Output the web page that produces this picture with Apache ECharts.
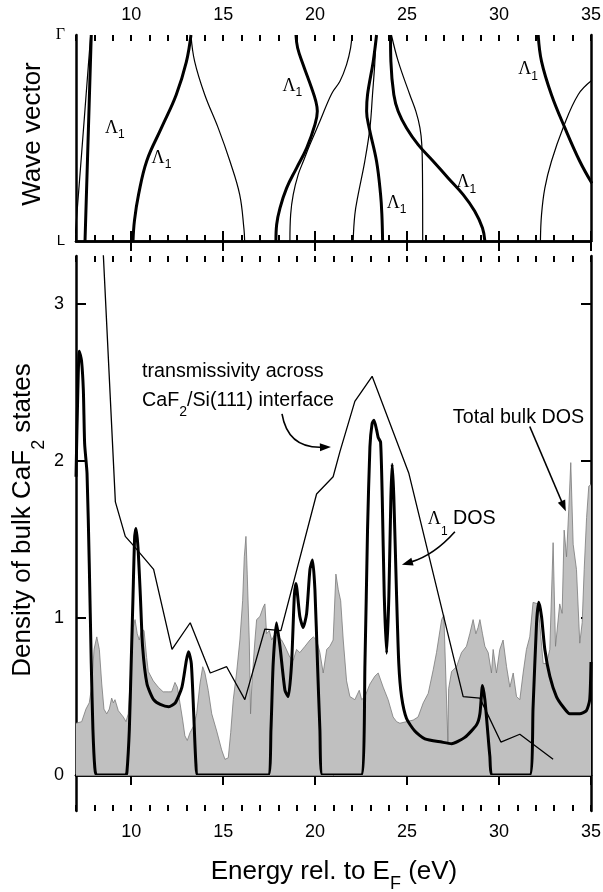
<!DOCTYPE html>
<html><head><meta charset="utf-8">
<script src="https://cdn.jsdelivr.net/npm/echarts@6/dist/echarts.min.js"></script>
<style>html,body{margin:0;padding:0;background:#fff}#c{width:603px;height:892px}</style>
</head><body><div id="c"></div>
<script>
// ---------- tick values ----------
const majorTicks = [10, 15, 20, 25, 30, 35];
const dosTicks = [0, 1, 2, 3];
const kTicks = [0, 1];
const kTickLabels = ['L', 'Γ'];

// ---------- top panel: band structure (energy eV, wave vector 0=L .. 1=Γ) ----------
const bandThick1 = [[7.49,0],[7.66,0.5],[7.83,1]];
const bandThick2 = [[10.1,0],[10.18,0.1],[10.4,0.225],[10.85,0.39],[11.65,0.55],[12.45,0.71],[13.0,0.87],[13.25,1]];
const bandThick3 = [[17.87,0],[17.91,0.08],[18.09,0.16],[18.45,0.257],[18.99,0.354],[19.54,0.451],[19.99,0.565],[20.12,0.63],[20.04,0.678],[19.81,0.743],[19.35,0.856],[19.05,0.937],[18.96,1]];
const bandThick4 = [[23.67,0],[23.63,0.128],[23.56,0.225],[23.34,0.387],[22.94,0.549],[22.8,0.63],[22.85,0.71],[23.16,0.872],[23.34,1]];
const bandThick5 = [[29.23,0],[29.1,0.063],[28.68,0.144],[28.05,0.225],[27.23,0.306],[26.42,0.387],[25.6,0.468],[24.97,0.549],[24.52,0.629],[24.28,0.71],[24.12,0.872],[24.1,1]];
const bandThick6 = [[35.05,0.28],[34.39,0.387],[33.58,0.549],[32.85,0.71],[32.31,0.872],[32.13,1]];

const bandThin1 = [[6.95,0.02],[7.31,0.43],[7.67,0.85],[7.8,1]];
const bandThin2 = [[16.17,0],[16.13,0.06],[15.9,0.225],[15.37,0.387],[14.73,0.549],[14.0,0.71],[13.45,0.872],[13.25,1]];
const bandThin3 = [[18.63,0],[18.67,0.128],[18.81,0.225],[19.08,0.322],[19.36,0.387],[19.72,0.468],[20.26,0.581],[20.9,0.715],[21.35,0.775],[21.71,0.856],[21.93,0.937],[22.0,1]];
const bandThin4 = [[22.07,0],[22.16,0.128],[22.34,0.225],[22.7,0.387],[22.98,0.549],[23.12,0.71],[23.25,0.872],[23.3,1]];
const bandThin5 = [[25.85,0],[25.84,0.3],[25.8,0.468],[25.7,0.549],[25.48,0.629],[25.15,0.71],[24.52,0.872],[24.15,1]];
const bandThin6 = [[32.25,0],[32.31,0.128],[32.49,0.257],[32.85,0.387],[33.48,0.549],[34.3,0.71],[35.05,0.78]];

// ---------- bottom panel ----------
const totalDos = [[7.0,0.33],[7.31,0.34],[7.54,0.42],[7.72,0.46],[7.85,0.56],[7.98,0.80],[8.13,0.88],[8.27,0.80],[8.40,0.58],[8.52,0.42],[8.67,0.39],[8.81,0.42],[8.94,0.49],[9.03,0.46],[9.12,0.48],[9.30,0.41],[9.57,0.37],[9.72,0.34],[9.84,0.39],[9.97,0.65],[10.11,0.94],[10.21,0.99],[10.33,0.90],[10.44,0.86],[10.57,0.93],[10.70,0.92],[10.84,0.75],[10.93,0.66],[11.20,0.60],[11.47,0.56],[11.74,0.53],[12.02,0.53],[12.20,0.53],[12.29,0.56],[12.38,0.59],[12.51,0.56],[12.65,0.46],[12.80,0.35],[12.92,0.25],[13.05,0.22],[13.20,0.27],[13.38,0.31],[13.56,0.39],[13.74,0.58],[13.89,0.69],[14.01,0.65],[14.19,0.54],[14.38,0.39],[14.65,0.28],[14.92,0.16],[15.10,0.10],[15.28,0.11],[15.41,0.27],[15.55,0.48],[15.73,0.65],[15.91,0.86],[16.06,1.11],[16.15,1.39],[16.24,1.52],[16.31,1.28],[16.42,0.86],[16.49,0.39],[16.57,0.60],[16.73,0.86],[16.82,0.99],[17.0,1.01],[17.18,1.07],[17.27,1.09],[17.36,0.90],[17.51,0.92],[17.64,0.86],[17.82,0.90],[18.0,0.88],[18.18,0.86],[18.36,0.82],[18.63,0.75],[18.81,0.73],[18.99,0.80],[19.17,0.78],[19.45,0.82],[19.72,0.86],[19.90,0.88],[20.08,0.86],[20.26,0.78],[20.44,0.65],[20.63,0.80],[20.80,0.82],[20.98,0.86],[21.13,1.28],[21.26,1.18],[21.39,1.11],[21.53,0.86],[21.71,0.60],[21.89,0.50],[22.16,0.48],[22.40,0.54],[22.53,0.48],[22.71,0.50],[22.98,0.58],[23.25,0.63],[23.43,0.65],[23.70,0.56],[23.97,0.48],[24.24,0.37],[24.43,0.34],[24.61,0.33],[24.97,0.34],[25.33,0.35],[25.60,0.37],[25.88,0.46],[26.15,0.52],[26.42,0.67],[26.60,0.78],[26.88,0.99],[27.0,1.02],[27.22,0.21],[27.26,0.55],[27.42,0.66],[27.69,0.69],[27.96,0.78],[28.23,0.82],[28.41,0.90],[28.59,0.99],[28.74,0.90],[28.86,0.94],[28.96,0.99],[29.10,0.90],[29.23,0.82],[29.41,0.78],[29.59,0.65],[29.68,0.80],[29.86,0.65],[30.04,0.80],[30.22,0.86],[30.41,0.69],[30.59,0.56],[30.77,0.65],[30.95,0.50],[31.13,0.48],[31.31,0.65],[31.49,0.80],[31.67,0.88],[31.85,1.10],[32.12,1.09],[32.40,0.71],[32.58,0.71],[32.76,0.80],[32.94,1.48],[33.07,0.82],[33.30,1.09],[33.43,1.03],[33.54,1.56],[33.67,1.39],[33.79,1.69],[33.90,1.99],[34.03,1.47],[34.21,1.31],[34.39,0.84],[34.52,0.97],[34.63,1.31],[34.76,1.64],[34.88,1.84],[35.0,1.85]];

const lambda1Dos = [[7.0,1.9],[7.1,2.45],[7.18,2.70],[7.3,2.64],[7.4,2.45],[7.47,2.11],[7.6,1.92],[7.72,1.35],[7.83,0.71],[7.92,0.29],[8.02,0.05],[8.12,0],[9.7,0],[9.77,0.02],[9.9,0.29],[10.0,0.71],[10.1,1.14],[10.19,1.52],[10.26,1.57],[10.37,1.45],[10.5,1.14],[10.62,0.82],[10.86,0.58],[11.22,0.48],[11.58,0.45],[12.04,0.435],[12.4,0.46],[12.76,0.56],[13.0,0.73],[13.12,0.785],[13.27,0.71],[13.4,0.39],[13.52,0.07],[13.63,0],[17.45,0],[17.6,0.29],[17.72,0.71],[17.9,0.97],[18.09,0.82],[18.36,0.54],[18.54,0.50],[18.72,0.71],[18.87,1.14],[18.96,1.22],[19.17,1.01],[19.35,0.94],[19.54,1.03],[19.72,1.31],[19.86,1.37],[19.99,1.18],[20.13,0.71],[20.26,0.29],[20.4,0],[22.5,0],[22.71,0.71],[22.85,1.56],[22.98,2.09],[23.1,2.24],[23.2,2.26],[23.34,2.20],[23.43,2.15],[23.56,2.12],[23.65,1.77],[23.76,1.14],[23.89,0.775],[24.01,1.14],[24.12,1.77],[24.19,1.98],[24.28,1.77],[24.43,1.14],[24.55,0.71],[24.7,0.50],[24.97,0.36],[25.42,0.28],[25.97,0.23],[26.88,0.21],[27.42,0.20],[28.14,0.24],[28.78,0.32],[28.96,0.39],[29.1,0.57],[29.23,0.48],[29.36,0.31],[29.5,0.12],[29.65,0],[31.67,0],[31.85,0.43],[32.04,0.97],[32.16,1.10],[32.31,1.01],[32.49,0.80],[32.76,0.63],[33.12,0.50],[33.48,0.435],[33.85,0.39],[34.39,0.39],[34.75,0.41],[34.93,0.48],[35.0,0.72]];

const transmissivity = [[8.45,3.4],[9.14,1.74],[9.68,1.52],[10.14,1.46],[11.22,1.31],[12.22,0.80],[13.21,0.97],[14.30,0.65],[15.19,0.69],[16.18,0.48],[17.27,0.93],[18.14,0.92],[20.08,1.79],[20.98,1.90],[21.35,2.06],[22.16,2.38],[23.10,2.54],[25.10,1.92],[28.05,0.50],[28.96,0.49],[30.10,0.21],[31.13,0.26],[32.94,0.10]];

const SANS = '"Liberation Sans", Arial, Helvetica, sans-serif';
const SERIF = '"Liberation Serif", "Times New Roman", serif';
const AX = {show: true, lineStyle: {color: '#000', width: 2.5}};

function xAxisDef(grid, pos, major, labels, margin) {
  const a = {
    gridIndex: grid, type: 'value', position: pos, min: 7, max: 35,
    axisLine: major ? AX : {show: false},
    splitLine: {show: false},
    axisLabel: {show: false}
  };
  if (major) {
    a.axisTick = {show: true, inside: true, length: 10, customValues: majorTicks, lineStyle: {color: '#000', width: 2}};
    if (labels) a.axisLabel = {show: true, customValues: majorTicks, fontSize: 18, lineHeight: 18, fontFamily: SANS, color: '#000', margin: margin};
  } else {
    a.interval = 1;
    a.axisTick = {show: true, inside: true, length: 6, lineStyle: {color: '#000', width: 2}};
  }
  return a;
}

const thickBands = [bandThick1, bandThick2, bandThick3, bandThick4, bandThick5, bandThick6];
const thinBands = [bandThin1, bandThin2, bandThin3, bandThin4, bandThin5, bandThin6];
const series = [];
thickBands.forEach(d => series.push({type: 'line', xAxisIndex: 0, yAxisIndex: 0, data: d, smooth: 0.4, symbol: 'none', lineStyle: {color: '#000', width: 3}, silent: true, z: 3}));
thinBands.forEach(d => series.push({type: 'line', xAxisIndex: 0, yAxisIndex: 0, data: d, smooth: 0.4, symbol: 'none', lineStyle: {color: '#000', width: 1.2}, silent: true, z: 2}));
series.push({type: 'line', xAxisIndex: 4, yAxisIndex: 2, data: totalDos, symbol: 'none', lineStyle: {color: '#7a7a7a', width: 0.8}, areaStyle: {color: '#c0c0c0', opacity: 1}, silent: true, z: 1,
  markLine: {silent: true, symbol: 'none', label: {show: false}, lineStyle: {color: '#888', width: 1, type: 'solid'}, data: [{yAxis: 0}]}});
series.push({type: 'line', xAxisIndex: 4, yAxisIndex: 2, data: transmissivity, symbol: 'none', lineStyle: {color: '#000', width: 1.3}, silent: true, z: 3});
series.push({type: 'line', xAxisIndex: 4, yAxisIndex: 2, data: lambda1Dos, smooth: 0.2, symbol: 'none', lineStyle: {color: '#000', width: 3}, silent: true, z: 4});

const option = {
  animation: false,
  backgroundColor: '#fff',
  grid: [
    {left: 76, right: 12, top: 35, height: 206, outerBoundsMode: 'none'},
    {left: 76, right: 12, top: 256, height: 555, outerBoundsMode: 'none'}
  ],
  xAxis: [
    xAxisDef(0, 'top', true, true, 11),
    xAxisDef(0, 'bottom', true, false),
    xAxisDef(0, 'top', false),
    xAxisDef(0, 'bottom', false),
    xAxisDef(1, 'top', true, false),
    xAxisDef(1, 'bottom', true, true, 12),
    xAxisDef(1, 'top', false),
    xAxisDef(1, 'bottom', false)
  ],
  yAxis: [
    {gridIndex: 0, type: 'value', position: 'left', min: 0, max: 1, axisLine: AX, splitLine: {show: false},
     axisTick: {show: false},
     axisLabel: {show: true, customValues: kTicks, margin: 11, color: '#000',
       formatter: v => v === 1 ? '{g|' + kTickLabels[1] + '}' : '{l|' + kTickLabels[0] + '}',
       rich: {g: {fontFamily: SERIF, fontSize: 16, color: '#000'}, l: {fontFamily: SANS, fontSize: 15, color: '#000'}}}},
    {gridIndex: 0, type: 'value', position: 'right', min: 0, max: 1, axisLine: AX, splitLine: {show: false}, axisTick: {show: false}, axisLabel: {show: false}},
    {gridIndex: 1, type: 'value', position: 'left', min: -0.229, max: 3.306, axisLine: AX, splitLine: {show: false},
     axisTick: {show: true, inside: true, length: 10, customValues: dosTicks, lineStyle: {color: '#000', width: 2}},
     axisLabel: {show: true, customValues: dosTicks, fontSize: 18, fontFamily: SANS, color: '#000', margin: 12}},
    {gridIndex: 1, type: 'value', position: 'right', min: -0.229, max: 3.306, axisLine: AX, splitLine: {show: false},
     axisTick: {show: true, inside: true, length: 10, customValues: dosTicks, lineStyle: {color: '#000', width: 2}},
     axisLabel: {show: false}}
  ],
  series: series
};

const chart = echarts.init(document.getElementById('c'), null, {renderer: 'canvas'});
chart.setOption(option);

// ---------- annotations ----------
const mctx = document.createElement('canvas').getContext('2d');
function fnt(s, f) { return s + 'px ' + (f || SANS); }
function tw(t, f) { mctx.font = f; return mctx.measureText(t).width; }
function textRun(segs, x, y, align, rotation) {
  const widths = segs.map(s => tw(s.t, fnt(s.s, s.f)));
  const total = widths.reduce((a, b) => a + b, 0);
  let cx = align === 'center' ? -total / 2 : 0;
  const children = [];
  segs.forEach((s, i) => {
    children.push({type: 'text', x: cx, y: s.dy || 0, silent: true,
      style: {text: s.t, font: fnt(s.s, s.f), fill: '#000', align: 'left', verticalAlign: 'middle'}});
    cx += widths[i];
  });
  return {type: 'group', x: x, y: y, rotation: rotation || 0, children: children, silent: true};
}
function arrow(p0, c, p1, lw) {
  const from = c || p0;
  let dx = p1[0] - from[0], dy = p1[1] - from[1];
  const L = Math.hypot(dx, dy); dx /= L; dy /= L;
  const hl = 11, hw = 4;
  const bx = p1[0] - dx * hl, by = p1[1] - dy * hl;
  const nx = -dy, ny = dx;
  const els = [];
  if (c) els.push({type: 'bezierCurve', silent: true, shape: {x1: p0[0], y1: p0[1], cpx1: c[0], cpy1: c[1], x2: bx + dx * 2, y2: by + dy * 2}, style: {stroke: '#000', lineWidth: lw, fill: 'none'}});
  else els.push({type: 'line', silent: true, shape: {x1: p0[0], y1: p0[1], x2: bx + dx * 2, y2: by + dy * 2}, style: {stroke: '#000', lineWidth: lw}});
  els.push({type: 'polygon', silent: true, shape: {points: [[p1[0], p1[1]], [bx + nx * hw, by + ny * hw], [bx - nx * hw, by - ny * hw]]}, style: {fill: '#000'}});
  return els;
}
const P0 = p => chart.convertToPixel({xAxisIndex: 0, yAxisIndex: 0}, p);
const P1 = p => chart.convertToPixel({xAxisIndex: 4, yAxisIndex: 2}, p);

// label anchors (data coordinates)
const lambdaLabelsTop = [[8.58, 0.549], [11.11, 0.403], [18.23, 0.752], [23.89, 0.184], [27.69, 0.284], [31.04, 0.833]];
const graphics = [];
lambdaLabelsTop.forEach(p => {
  const q = P0(p);
  graphics.push(textRun([{t: 'Λ', s: 18, f: SERIF}, {t: '1', s: 12, dy: 7}], q[0], q[1], 'left'));
});
let q = P1([10.59, 2.567]);
graphics.push(textRun([{t: 'transmissivity across', s: 19.7}], q[0], q[1], 'left'));
q = P1([10.59, 2.385]);
graphics.push(textRun([{t: 'CaF', s: 19.7}, {t: '2', s: 14, dy: 12}, {t: '/Si(111) interface', s: 19.7}], q[0], q[1], 'left'));
q = P1([27.49, 2.28]);
graphics.push(textRun([{t: 'Total bulk DOS', s: 19.7}], q[0], q[1], 'left'));
q = P1([26.13, 1.631]);
graphics.push(textRun([{t: 'Λ', s: 18, f: SERIF}, {t: '1', s: 12, dy: 13}, {t: ' DOS', s: 19.7}], q[0], q[1], 'left'));

arrow(P1([18.20, 2.30]), P1([18.52, 2.08]), P1([20.86, 2.09]), 1.6).forEach(e => graphics.push(e));
arrow(P1([31.67, 2.22]), null, P1([33.63, 1.68]), 1.6).forEach(e => graphics.push(e));
arrow(P1([27.6, 1.55]), P1([26.46, 1.40]), P1([24.72, 1.34]), 1.6).forEach(e => graphics.push(e));

// axis titles
graphics.push(textRun([{t: 'Wave vector', s: 26}], 33, 134, 'center', Math.PI / 2));
graphics.push(textRun([{t: 'Density of bulk CaF', s: 26}, {t: '2', s: 18, dy: 16}, {t: ' states', s: 26}], 23, 520, 'center', Math.PI / 2));
graphics.push(textRun([{t: 'Energy rel. to E', s: 26}, {t: 'F', s: 18, dy: 12}, {t: ' (eV)', s: 26}], 334, 872, 'center'));

chart.setOption({graphic: graphics});
</script>
</body></html>
